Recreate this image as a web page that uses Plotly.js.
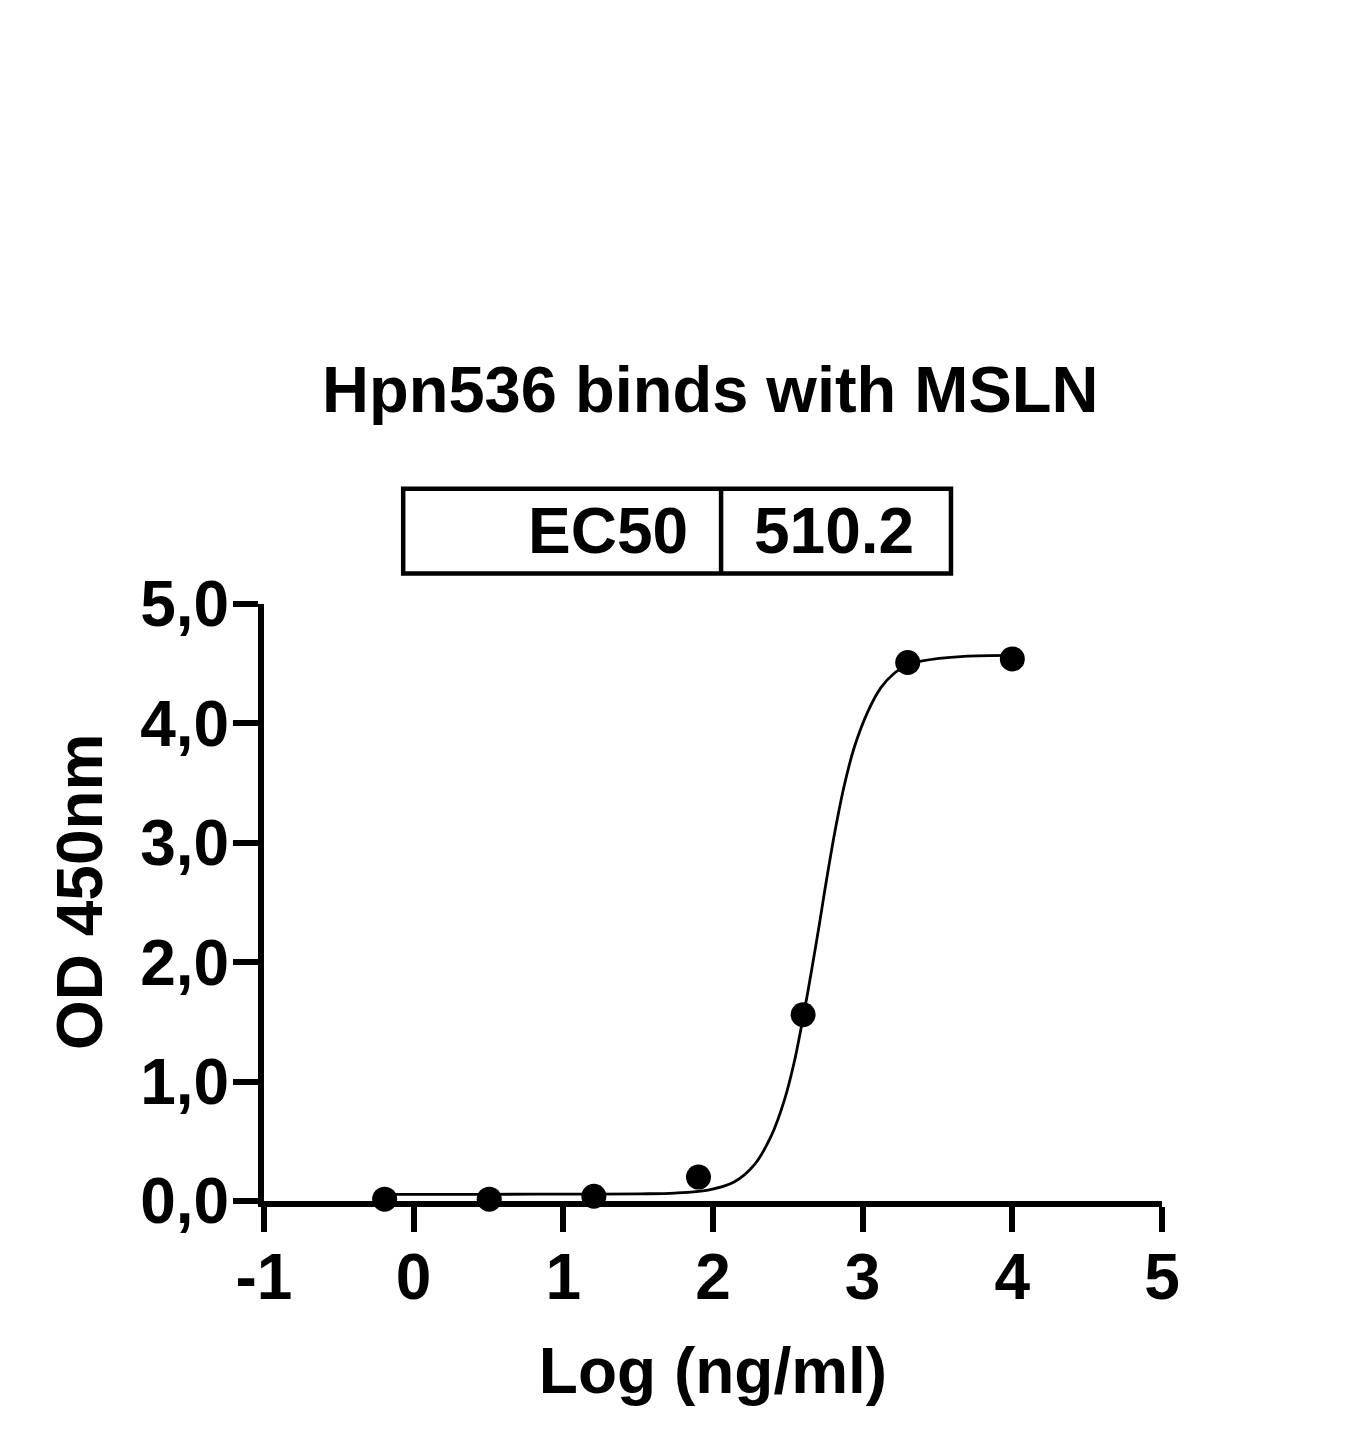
<!DOCTYPE html>
<html>
<head>
<meta charset="utf-8">
<script src="https://cdn.plot.ly/plotly-3.0.1.min.js"></script>
<style>html,body{margin:0;padding:0;background:#fff;}</style>
</head>
<body>
<div id="chart" style="width:1361px;height:1450px;"></div>
<script>
// Measured points: log10 concentration (ng/ml) vs OD 450nm
const logConc = [-0.194, 0.505, 1.204, 1.903, 2.602, 3.301, 4.0];
const od450 = [0.015, 0.015, 0.04, 0.20, 1.56, 4.51, 4.54];

// Fitted curve
const curveX = [-0.194, 0.5, 1.2, 1.522, 1.744, 1.967, 2.144, 2.277, 2.389, 2.477, 2.544, 2.607, 2.655, 2.711, 2.744, 2.811, 2.877, 2.944, 3.033, 3.122, 3.211, 3.30, 3.389, 3.677, 4.0];
const curveY = [0.055, 0.056, 0.058, 0.060, 0.066, 0.092, 0.162, 0.305, 0.545, 0.845, 1.17, 1.57, 1.905, 2.32, 2.58, 3.07, 3.48, 3.80, 4.095, 4.30, 4.42, 4.49, 4.522, 4.562, 4.57];

// Axis ticks
const xTickVals = [-1, 0, 1, 2, 3, 4, 5];
const xTickText = ["-1", "0", "1", "2", "3", "4", "5"];
const yTickVals = [0, 1, 2, 3, 4, 5];
const yTickText = ["0,0", "1,0", "2,0", "3,0", "4,0", "5,0"];

// Titles
const chartTitle = "Hpn536 binds with MSLN";
const xTitle = "Log (ng/ml)";
const yTitle = "OD 450nm";

// Result table
const tableLabels = ["EC50"];
const tableValues = ["510.2"];

const FONT = "Liberation Sans, Arial, Helvetica, sans-serif";
const bold = (size) => ({family: FONT, size: size, color: "#000", weight: "bold"});

const traces = [
  {
    x: curveX, y: curveY, type: "scatter", mode: "lines",
    line: {color: "#000", width: 2.8, shape: "spline", smoothing: 0.9},
    hoverinfo: "skip", showlegend: false, cliponaxis: false
  },
  {
    x: logConc, y: od450, type: "scatter", mode: "markers",
    marker: {color: "#000", size: 25},
    showlegend: false, cliponaxis: false
  }
];

const boxX0 = 0.155, boxX1 = 0.765, boxDiv = 0.509, boxY0 = 1.051, boxY1 = 1.193, rowY = 1.122;

const layout = {
  width: 1361, height: 1450, autosize: false,
  paper_bgcolor: "#fff", plot_bgcolor: "#fff",
  margin: {l: 264, r: 199, t: 604, b: 249, pad: 0},
  font: {family: FONT, color: "#000", weight: "bold"},
  title: {
    text: chartTitle,
    font: bold(65),
    x: 0.497, xref: "paper", xanchor: "center",
    y: 1 - 389 / 1450, yref: "container", yanchor: "middle"
  },
  xaxis: {
    range: [-1, 5], autorange: false, fixedrange: true,
    showline: true, linecolor: "#000", linewidth: 6,
    ticks: "outside", ticklen: 25, tickwidth: 6, tickcolor: "#000",
    tickvals: xTickVals, ticktext: xTickText,
    tickfont: bold(64), ticklabelstandoff: -10,
    showgrid: false, zeroline: false,
    title: {text: xTitle, font: bold(64), standoff: 38}
  },
  yaxis: {
    range: [0, 5], autorange: false, fixedrange: true,
    showline: true, linecolor: "#000", linewidth: 6,
    ticks: "outside", ticklen: 25, tickwidth: 6, tickcolor: "#000",
    tickvals: yTickVals, ticktext: yTickText,
    tickfont: bold(64), ticklabelstandoff: -9,
    showgrid: false, zeroline: false
  },
  shapes: [
    {type: "rect", xref: "paper", yref: "paper", x0: boxX0, x1: boxX1, y0: boxY0, y1: boxY1,
     line: {color: "#000", width: 4.5}, fillcolor: "rgba(0,0,0,0)"},
    {type: "line", xref: "paper", yref: "paper", x0: boxDiv, x1: boxDiv, y0: boxY0, y1: boxY1,
     line: {color: "#000", width: 4.5}}
  ],
  annotations: [
    {text: yTitle, xref: "paper", yref: "paper", x: -0.205, y: 0.519, textangle: -90,
     xanchor: "center", yanchor: "middle", showarrow: false, font: bold(64)},
    {text: tableLabels[0], xref: "paper", yref: "paper", x: 0.474, y: rowY,
     xanchor: "right", yanchor: "middle", showarrow: false, font: bold(64)},
    {text: tableValues[0], xref: "paper", yref: "paper", x: 0.635, y: rowY,
     xanchor: "center", yanchor: "middle", showarrow: false, font: bold(64)}
  ]
};

Plotly.newPlot("chart", traces, layout, {displayModeBar: false, staticPlot: true});
</script>
</body>
</html>
